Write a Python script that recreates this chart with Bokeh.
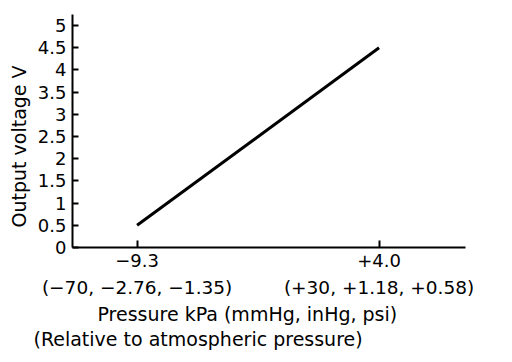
from bokeh.plotting import figure
from bokeh.models import Range1d, FixedTicker, NumeralTickFormatter, LinearAxis, Title
from bokeh.embed import file_html
from bokeh.resources import INLINE

# ---- data ----
line_kpa = [-9.3, 4.0]
line_volts = [0.5, 4.5]
x_ticks = [-9.3, 4.0]
x_tick_labels = ["\u22129.3", "+4.0"]
x_other_units = ["(\u221270, \u22122.76, \u22121.35)", "(+30, +1.18, +0.58)"]
y_ticks = [0, 0.5, 1, 1.5, 2, 2.5, 3, 3.5, 4, 4.5, 5]
y_title = "Output voltage V"
x_title_1 = "Pressure kPa (mmHg, inHg, psi)"
x_title_2 = "(Relative to atmospheric pressure)"

FONT = "DejaVu Sans"

p = figure(width=504, height=354, output_backend="svg", toolbar_location=None,
           x_range=Range1d(-12.85, 8.75), y_range=Range1d(0, 5.25),
           min_border_left=72, min_border_right=39, min_border_top=14, min_border_bottom=107)
p.outline_line_color = None
p.grid.visible = False
p.background_fill_color = "white"
p.border_fill_color = "white"

p.line(line_kpa, line_volts, line_color="black", line_width=3)

# y axis
ya = p.yaxis[0]
ya.ticker = FixedTicker(ticks=y_ticks)
ya.formatter = NumeralTickFormatter(format="0.[0]")
ya.major_tick_in = 6
ya.major_tick_out = 0
ya.minor_tick_line_color = None
ya.axis_line_width = 2
ya.major_tick_line_width = 2
ya.axis_line_color = "black"
ya.major_label_text_font = FONT
ya.major_label_text_font_size = "18px"
ya.major_label_text_color = "black"
ya.major_label_standoff = 6

p.add_layout(Title(text=y_title, align="left", offset=20, standoff=10,
                   text_font=FONT, text_font_size="19px", text_font_style="normal",
                   text_color="black"), "left")

# x axis (kPa)
xa = p.xaxis[0]
xa.ticker = FixedTicker(ticks=x_ticks)
xa.major_label_overrides = {t: lab for t, lab in zip(x_ticks, x_tick_labels)}
xa.major_tick_in = 7
xa.major_tick_out = 0
xa.minor_tick_line_color = None
xa.axis_line_width = 2
xa.major_tick_line_width = 2
xa.axis_line_color = "black"
xa.major_label_text_font = FONT
xa.major_label_text_font_size = "18px"
xa.major_label_text_color = "black"
xa.major_label_standoff = 6

# second row of tick labels (mmHg, inHg, psi)
xa2 = LinearAxis(ticker=FixedTicker(ticks=x_ticks),
                 major_label_overrides={t: lab for t, lab in zip(x_ticks, x_other_units)})
xa2.axis_line_color = None
xa2.major_tick_line_color = None
xa2.minor_tick_line_color = None
xa2.major_tick_in = 0
xa2.major_tick_out = 0
xa2.major_label_text_font = FONT
xa2.major_label_text_font_size = "18.5px"
xa2.major_label_text_color = "black"
xa2.major_label_standoff = 7
p.add_layout(xa2, "below")

p.add_layout(Title(text=x_title_1, align="left", offset=25, standoff=1,
                   text_font=FONT, text_font_size="19px", text_font_style="normal",
                   text_color="black"), "below")
p.add_layout(Title(text=x_title_2, align="left", offset=-39, standoff=0,
                   text_font=FONT, text_font_size="19px", text_font_style="normal",
                   text_color="black"), "below")

open("out.html", "w").write(file_html(p, INLINE))
